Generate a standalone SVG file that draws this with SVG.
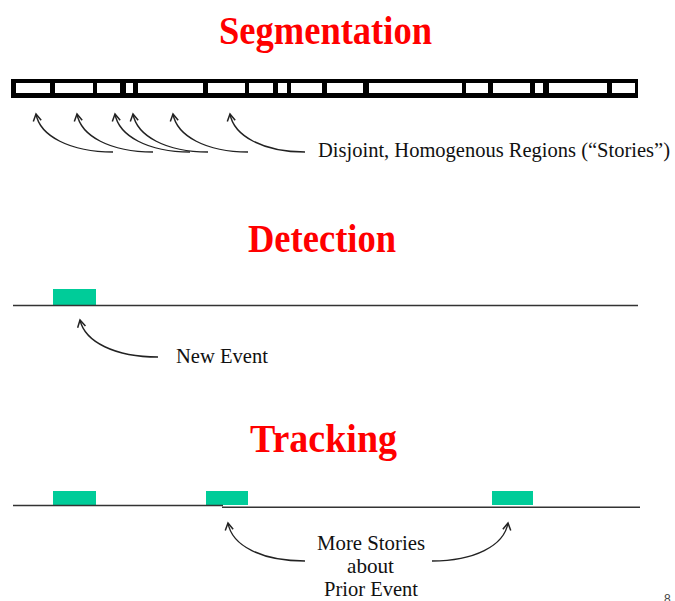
<svg xmlns="http://www.w3.org/2000/svg" width="675" height="601" viewBox="0 0 675 601">
<style>
.title{font-family:"Liberation Serif",serif;font-weight:bold;font-size:40px;fill:#ff0000}
.lbl{font-family:"Liberation Serif",serif;font-size:21px;fill:#111}
.conn{fill:none;stroke:#222;stroke-width:1.4}
.tl{stroke:#333;stroke-width:1.6}
.ev{fill:#00cc99}
.cell{fill:#fff}
</style>
<defs>
<marker id="ah" markerUnits="userSpaceOnUse" markerWidth="12" markerHeight="12" refX="8" refY="5" orient="auto">
<path d="M1,1 L8,5 L1,9" fill="none" stroke="#222" stroke-width="1.5"/>
</marker>
</defs>
<rect width="675" height="601" fill="#fff"/>
<g id="segmentation">
<text class="title" x="219" y="44" textLength="213" lengthAdjust="spacingAndGlyphs">Segmentation</text>
<rect x="11" y="79" width="627" height="19" fill="#000"/>
<g class="cell">
<rect x="16" y="83" width="34" height="10"/>
<rect x="55" y="83" width="38" height="10"/>
<rect x="97" y="83" width="23" height="10"/>
<rect x="126" y="83" width="7" height="10"/>
<rect x="138" y="83" width="65" height="10"/>
<rect x="208" y="83" width="37" height="10"/>
<rect x="249" y="83" width="24" height="10"/>
<rect x="278" y="83" width="9" height="10"/>
<rect x="291" y="83" width="31" height="10"/>
<rect x="327" y="83" width="36" height="10"/>
<rect x="369" y="83" width="93" height="10"/>
<rect x="466" y="83" width="22" height="10"/>
<rect x="493" y="83" width="37" height="10"/>
<rect x="535" y="83" width="8" height="10"/>
<rect x="549" y="83" width="58" height="10"/>
<rect x="612" y="83" width="23" height="10"/>
</g>
<text id="stories-label" class="lbl" x="318" y="157" textLength="352" lengthAdjust="spacingAndGlyphs">Disjoint, Homogenous Regions (“Stories”)</text>
</g>
<g id="detection">
<text class="title" x="248" y="252" textLength="148" lengthAdjust="spacingAndGlyphs">Detection</text>
<rect class="ev" x="53" y="289" width="43" height="16"/>
<line class="tl" x1="13" y1="305.5" x2="638" y2="305.5"/>
<text id="new-event-label" class="lbl" x="176" y="363" textLength="92" lengthAdjust="spacingAndGlyphs">New Event</text>
</g>
<g id="tracking">
<text class="title" x="250" y="452" textLength="147" lengthAdjust="spacingAndGlyphs">Tracking</text>
<rect class="ev" x="53" y="491" width="43" height="14"/>
<rect class="ev" x="206" y="491" width="42" height="14"/>
<rect class="ev" x="492" y="491" width="41" height="14"/>
<line class="tl" x1="13" y1="505.5" x2="223" y2="505.5"/>
<line class="tl" x1="222" y1="507.2" x2="640" y2="507.2"/>
<text class="lbl" x="317" y="550" textLength="108" lengthAdjust="spacingAndGlyphs">More Stories</text>
<text class="lbl" x="347" y="573" textLength="47" lengthAdjust="spacingAndGlyphs">about</text>
<text class="lbl" x="324" y="596" textLength="94" lengthAdjust="spacingAndGlyphs">Prior Event</text>
</g>
<g id="page-number">
<text x="664" y="603" style="font-family:'Liberation Sans',sans-serif;font-size:12px;fill:#444">8</text>
</g>
<g id="connectors">
<path class="conn" marker-end="url(#ah)" d="M113,152 C70,152 40,136 36,114"/>
<path class="conn" marker-end="url(#ah)" d="M153,152 C110,152 81,136 77,114"/>
<path class="conn" marker-end="url(#ah)" d="M190,152 C148,152 119,136 115,114"/>
<path class="conn" marker-end="url(#ah)" d="M208,152 C166,152 137,136 133,114"/>
<path class="conn" marker-end="url(#ah)" d="M248,152 C206,152 177,136 173,114"/>
<path class="conn" marker-end="url(#ah)" d="M305,152 C263,152 234,136 230,114"/>
<path class="conn" marker-end="url(#ah)" d="M158,357 C115,357 85,342 80,320"/>
<path class="conn" marker-end="url(#ah)" d="M305,561 C262,561 232,546 228,523"/>
<path class="conn" marker-end="url(#ah)" d="M432,561 C474,561 504,546 508,523"/>
</g>
</svg>
